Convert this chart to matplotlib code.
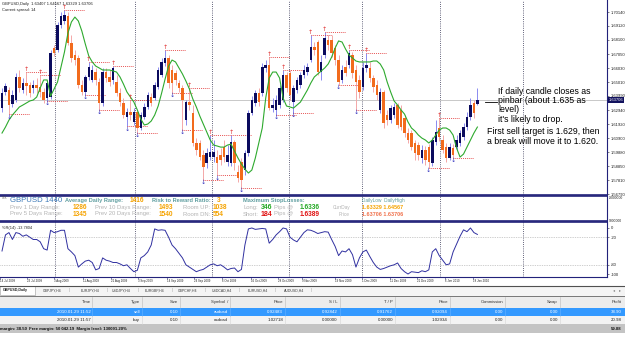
import matplotlib
matplotlib.use("Agg")
import matplotlib.pyplot as plt
from matplotlib.patches import Rectangle
import numpy as np

plt.rcParams["font.family"] = ["Liberation Sans", "DejaVu Sans"]

# GBPUSD daily bars
opens = [1.6310, 1.6428, 1.6442, 1.6340, 1.6369, 1.6538, 1.6442, 1.6494, 1.6479, 1.6457,
         1.6479, 1.6464, 1.6428, 1.6384, 1.6391, 1.6750, 1.6736, 1.6919, 1.6948, 1.6985,
         1.6787, 1.6699, 1.6677, 1.6479, 1.6428, 1.6538, 1.6516, 1.6574, 1.6501, 1.6347,
         1.6574, 1.6538, 1.6516, 1.6501, 1.6420, 1.6347, 1.6244, 1.6281, 1.6208, 1.6281,
         1.6164, 1.6244, 1.6318, 1.6391, 1.6384, 1.6464, 1.6552, 1.6640, 1.6677, 1.6589,
         1.6567, 1.6494, 1.6457, 1.6222, 1.6354, 1.6274, 1.6054, 1.6054, 1.5966, 1.5907,
         1.5951, 1.5951, 1.5951, 1.5966, 1.6024, 1.5915, 1.5907, 1.6061, 1.5841, 1.5915,
         1.5856, 1.5980, 1.6274, 1.6347, 1.6420, 1.6420, 1.6604, 1.6626, 1.6310, 1.6296,
         1.6332, 1.6369, 1.6552, 1.6567, 1.6354, 1.6442, 1.6479, 1.6552, 1.6574, 1.6662,
         1.6757, 1.6794, 1.6574, 1.6699, 1.6809, 1.6809, 1.6750, 1.6662, 1.6516, 1.6611,
         1.6626, 1.6699, 1.6589, 1.6516, 1.6464, 1.6604, 1.6604, 1.6530, 1.6479, 1.6296,
         1.6428, 1.6259, 1.6222, 1.6259, 1.6332, 1.6296, 1.6237, 1.6127, 1.6127, 1.6054,
         1.6039, 1.5944, 1.6002, 1.6024, 1.5907, 1.6061, 1.6164, 1.6076, 1.6024, 1.5944,
         1.6017, 1.6024, 1.6054, 1.6098, 1.6171, 1.6244, 1.6347, 1.63407]
highs = [1.6457, 1.6494, 1.6464, 1.6442, 1.6567, 1.6589, 1.6530, 1.6574, 1.6501, 1.6516,
         1.6530, 1.6552, 1.6457, 1.6516, 1.6736, 1.6772, 1.6941, 1.7014, 1.7029, 1.7014,
         1.6845, 1.6736, 1.6699, 1.6516, 1.6552, 1.6648, 1.6626, 1.6604, 1.6530, 1.6604,
         1.6604, 1.6589, 1.6618, 1.6552, 1.6457, 1.6384, 1.6310, 1.6369, 1.6310, 1.6296,
         1.6281, 1.6347, 1.6428, 1.6420, 1.6501, 1.6611, 1.6677, 1.6736, 1.6699, 1.6626,
         1.6589, 1.6516, 1.6479, 1.6369, 1.6457, 1.6332, 1.6090, 1.6076, 1.6002, 1.6017,
         1.6112, 1.6076, 1.6002, 1.6017, 1.6076, 1.6039, 1.6112, 1.6076, 1.5893, 1.5944,
         1.6002, 1.6296, 1.6398, 1.6442, 1.6457, 1.6640, 1.6662, 1.6684, 1.6384, 1.6406,
         1.6479, 1.6589, 1.6574, 1.6589, 1.6479, 1.6538, 1.6574, 1.6626, 1.6640, 1.6845,
         1.6794, 1.6809, 1.6699, 1.6867, 1.6845, 1.6845, 1.6772, 1.6699, 1.6626, 1.6662,
         1.6736, 1.6721, 1.6626, 1.6552, 1.6648, 1.6714, 1.6648, 1.6552, 1.6516, 1.6457,
         1.6442, 1.6296, 1.6332, 1.6347, 1.6347, 1.6332, 1.6259, 1.6164, 1.6149, 1.6076,
         1.6061, 1.6039, 1.6032, 1.6046, 1.6098, 1.6222, 1.6237, 1.6112, 1.6054, 1.6054,
         1.6046, 1.6112, 1.6149, 1.6200, 1.6281, 1.6384, 1.6369, 1.64567]
lows = [1.6281, 1.6406, 1.6266, 1.6318, 1.6354, 1.6428, 1.6420, 1.6406, 1.6391, 1.6420,
        1.6420, 1.6391, 1.6347, 1.6362, 1.6376, 1.6692, 1.6721, 1.6897, 1.6926, 1.6772,
        1.6648, 1.6626, 1.6457, 1.6406, 1.6406, 1.6516, 1.6501, 1.6479, 1.6296, 1.6325,
        1.6501, 1.6472, 1.6486, 1.6398, 1.6325, 1.6237, 1.6178, 1.6222, 1.6186, 1.6127,
        1.6149, 1.6230, 1.6303, 1.6325, 1.6369, 1.6450, 1.6538, 1.6618, 1.6457, 1.6420,
        1.6479, 1.6428, 1.6149, 1.6186, 1.6296, 1.6032, 1.5966, 1.5929, 1.5783, 1.5871,
        1.5929, 1.5915, 1.5819, 1.5893, 1.5915, 1.5885, 1.5885, 1.5856, 1.5768, 1.5724,
        1.5819, 1.5959, 1.6259, 1.6325, 1.6325, 1.6398, 1.6574, 1.6296, 1.6281, 1.6259,
        1.6310, 1.6354, 1.6428, 1.6369, 1.6274, 1.6420, 1.6457, 1.6530, 1.6552, 1.6648,
        1.6699, 1.6552, 1.6516, 1.6677, 1.6736, 1.6684, 1.6626, 1.6479, 1.6494, 1.6545,
        1.6604, 1.6530, 1.6296, 1.6384, 1.6442, 1.6574, 1.6501, 1.6428, 1.6369, 1.6274,
        1.6164, 1.6186, 1.6200, 1.6237, 1.6164, 1.6149, 1.6098, 1.6054, 1.6002, 1.5929,
        1.5929, 1.5907, 1.5893, 1.5871, 1.5885, 1.6039, 1.6068, 1.5980, 1.5915, 1.5929,
        1.5944, 1.6002, 1.6032, 1.6076, 1.6149, 1.6222, 1.6237, 1.63329]
closes = [1.6420, 1.6472, 1.6332, 1.6406, 1.6538, 1.6457, 1.6494, 1.6472, 1.6420, 1.6479,
          1.6457, 1.6428, 1.6369, 1.6494, 1.6714, 1.6714, 1.6919, 1.6985, 1.6992, 1.6787,
          1.6677, 1.6662, 1.6479, 1.6428, 1.6538, 1.6611, 1.6589, 1.6516, 1.6347, 1.6574,
          1.6530, 1.6501, 1.6604, 1.6420, 1.6354, 1.6259, 1.6281, 1.6259, 1.6281, 1.6164,
          1.6259, 1.6318, 1.6406, 1.6347, 1.6479, 1.6589, 1.6648, 1.6677, 1.6494, 1.6494,
          1.6516, 1.6457, 1.6369, 1.6354, 1.6332, 1.6054, 1.6002, 1.5951, 1.5878, 1.5980,
          1.5988, 1.5988, 1.5907, 1.5929, 1.5951, 1.5966, 1.6061, 1.5907, 1.5797, 1.5783,
          1.5980, 1.6274, 1.6369, 1.6420, 1.6354, 1.6611, 1.6626, 1.6310, 1.6332, 1.6369,
          1.6457, 1.6552, 1.6457, 1.6406, 1.6457, 1.6516, 1.6552, 1.6589, 1.6611, 1.6757,
          1.6736, 1.6574, 1.6648, 1.6823, 1.6772, 1.6714, 1.6662, 1.6501, 1.6589, 1.6567,
          1.6714, 1.6567, 1.6501, 1.6428, 1.6604, 1.6626, 1.6530, 1.6464, 1.6406, 1.6428,
          1.6200, 1.6222, 1.6310, 1.6318, 1.6186, 1.6171, 1.6127, 1.6076, 1.6024, 1.5980,
          1.5966, 1.6002, 1.5929, 1.5915, 1.6076, 1.6134, 1.6098, 1.6002, 1.5944, 1.6024,
          1.5966, 1.6076, 1.6127, 1.6171, 1.6244, 1.6332, 1.6274, 1.63706]

# green moving-average line drawn on the chart
ma_line = [1.6127, 1.6171, 1.6222, 1.6259, 1.6288, 1.6318, 1.6332, 1.6347, 1.6362, 1.6369,
           1.6391, 1.6457, 1.6516, 1.6516, 1.6398, 1.6450, 1.6501, 1.6611, 1.6721, 1.6860,
           1.6941, 1.6977, 1.6948, 1.6875, 1.6780, 1.6692, 1.6648, 1.6618, 1.6604, 1.6589,
           1.6589, 1.6589, 1.6582, 1.6574, 1.6538, 1.6486, 1.6428, 1.6391, 1.6354, 1.6296,
           1.6230, 1.6186, 1.6193, 1.6215, 1.6259, 1.6325, 1.6420, 1.6523, 1.6618, 1.6662,
           1.6648, 1.6604, 1.6560, 1.6508, 1.6450, 1.6376, 1.6318, 1.6252, 1.6193, 1.6134,
           1.6076, 1.6039, 1.6032, 1.6024, 1.6024, 1.6039, 1.6046, 1.5995, 1.5944, 1.5900,
           1.5863, 1.5834, 1.5856, 1.5944, 1.6054, 1.6164, 1.6384, 1.6530, 1.6574, 1.6574,
           1.6530, 1.6384, 1.6325, 1.6318, 1.6310, 1.6332, 1.6354, 1.6398, 1.6442, 1.6494,
           1.6538, 1.6560, 1.6582, 1.6604, 1.6633, 1.6684, 1.6750, 1.6802, 1.6794, 1.6743,
           1.6699, 1.6677, 1.6655, 1.6648, 1.6648, 1.6648, 1.6648, 1.6655, 1.6655, 1.6633,
           1.6589, 1.6501, 1.6428, 1.6362, 1.6332, 1.6296, 1.6266, 1.6208, 1.6164, 1.6142,
           1.6112, 1.6090, 1.6076, 1.6054, 1.6076, 1.6112, 1.6149, 1.6164, 1.6164, 1.6149,
           1.6112, 1.6017, 1.5951, 1.5973, 1.6024, 1.6076, 1.6127, 1.6171]

# Williams %R(14) in the lower window
wpr = [-50, -15, -10, -25, -10, -12, -18, -15, -20, -25,
       -25, -30, -45, -48, -5, -10, -8, -5, -5, -45,
       -52, -60, -85, -78, -72, -70, -75, -91, -88, -65,
       -70, -72, -75, -75, -78, -82, -80, -88, -95, -92,
       -65, -60, -52, -37, -2, -5, -4, -5, -20, -37,
       -45, -55, -65, -80, -85, -90, -95, -92, -90, -85,
       -80, -78, -82, -80, -85, -91, -88, -87, -95, -90,
       -37, -2, 0, -3, -2, -1, -2, -33, -25, -15,
       -8, 0, -2, -20, -26, -30, -20, -10, -4, -5,
       -8, -12, -10, -8, -9, -25, -40, -60, -50, -52,
       -45, -58, -85, -65, -52, -48, -62, -75, -85, -90,
       -88, -85, -82, -80, -76, -88, -95, -100, -95, -96,
       -97, -93, -95, -91, -52, -45, -60, -70, -80, -78,
       -52, -35, -18, -4, -8, 0, -10, -14]
wpr_label = "%R(14) -13.7804"

fractal_up = [7, 11, 18, 25, 32, 37, 47, 54, 60, 66, 77, 81, 89, 93, 100, 105, 126]
fractal_down = [2, 13, 24, 28, 36, 39, 49, 52, 58, 62, 69, 79, 84, 97, 102, 123, 130]
month_starts = [15.3, 38.3, 60.5, 82.7, 103.7, 126.2, 150.1]

price_ticks = [1.70140, 1.69120, 1.68100, 1.67050, 1.66030, 1.65010, 1.63990,
               1.62940, 1.61920, 1.60900, 1.59880, 1.58850, 1.57810, 1.56790]
date_pos = [-0.45, 7.2, 15.0, 23.3, 31.4, 39.2, 47.6, 55.3, 63.4, 71.8, 79.5, 86.5,
            96.0, 103.7, 111.8, 119.6, 127.7, 135.7]
date_labels = ["14 Jul 2009", "23 Jul 2009", "3 Aug 2009", "11 Aug 2009", "21 Aug 2009",
               "3 Sep 2009", "14 Sep 2009", "24 Sep 2009", "6 Oct 2009", "16 Oct 2009",
               "28 Oct 2009", "9 Nov 2009", "19 Nov 2009", "1 Dec 2009", "11 Dec 2009",
               "21 Dec 2009", "6 Jan 2010", "18 Jan 2010"]

tabs = ["GBPJPY,H4", "EURJPY,H4", "USDJPY,H4", "EURGBP,H4", "GBPCHF,H4",
        "USDCAD,H4", "EURUSD,H4", "AUDUSD,H4"]
columns = ["Time", "Type", "Size", "Symbol  /", "Price", "S / L", "T / P", "Price",
           "Commission", "Swap", "Profit"]
trade_rows = [
    ["2010.01.29 11:52", "sell", "0.10", "audusd", "0.92483", "0.92842", "0.91762",
     "0.92094", "0.00", "0.00", "38.90"],
    ["2010.01.29 11:57", "buy", "0.10", "usdcad", "1.02718", "0.00000", "0.00000",
     "1.02934", "0.00", "0.00", "20.98"],
]
total_profit = "59.88"

W, H = 625, 354
NAVY = "#22227a"
fig = plt.figure(figsize=(W / 100, H / 100), dpi=100)


def box(x0, y0, x1, y1):
    # pixel box (top-left origin) -> figure fraction rect
    return [x0 / W, 1 - y1 / H, (x1 - x0) / W, (y1 - y0) / H]


x_lim = (-0.58, 174.35)
x = np.arange(len(closes))
o, hi, lo, c = (np.array(v) for v in (opens, highs, lows, closes))
bull = c >= o

# ---- main price window ----
ax = fig.add_axes(box(0, 0, 607, 195))
ax.set_facecolor("none")
for m in month_starts:
    ax.axvline(m, color="#303050", lw=0.6, ls=(0, (1, 1.6)), zorder=1)
ax.axhline(c[-1], color="#c8c8c8", lw=0.7, zorder=1)
ax.vlines(x[bull], lo[bull], hi[bull], color="#8a8af0", lw=0.7, zorder=2)
ax.vlines(x[~bull], lo[~bull], hi[~bull], color="#f4a8a8", lw=0.7, zorder=2)
body_lo = np.minimum(o, c)
body_h = np.maximum(np.abs(c - o), 0.0004)
ax.bar(x[bull], body_h[bull], bottom=body_lo[bull], width=0.72, color="#0b0b5e", lw=0, zorder=3)
ax.bar(x[~bull], body_h[~bull], bottom=body_lo[~bull], width=0.72, color="#f26b1d", lw=0, zorder=3)
ax.plot(x, ma_line, color="#2eaa2e", lw=0.8, zorder=4)

for i in fractal_up:
    ax.hlines(hi[i], i, i + 6, colors="#e02020", linestyles=(0, (1, 1.3)), lw=0.6, zorder=2)
    ax.annotate("↑", (i, hi[i]), xytext=(0, 0.3), textcoords="offset points", ha="center",
                va="bottom", color="#e03030", fontsize=4.5, family="DejaVu Sans", zorder=5)
for i in fractal_down:
    ax.hlines(lo[i], i, i + 6, colors="#e02020", linestyles=(0, (1, 1.3)), lw=0.6, zorder=2)
    ax.annotate("↓", (i, lo[i]), xytext=(0, -0.3), textcoords="offset points", ha="center",
                va="top", color="#3535c0", fontsize=4.5, family="DejaVu Sans", zorder=5)

ax.set_xlim(*x_lim)
ax.set_ylim(1.5673, 1.7102)
ax.yaxis.tick_right()
ax.set_yticks(price_ticks)
ax.set_yticklabels([f"{p:.5f}" for p in price_ticks])
ax.tick_params(axis="y", labelsize=3, length=1.5, width=0.4, pad=1, colors="#202020")
ax.set_xticks([])
for s in ("top", "left"):
    ax.spines[s].set_visible(False)
ax.spines["right"].set_color(NAVY)
ax.spines["right"].set_linewidth(0.8)
ax.spines["bottom"].set_color(NAVY)
ax.spines["bottom"].set_linewidth(1.2)
ax.text(1.003, c[-1], f"{c[-1]:.5f}", transform=ax.get_yaxis_transform(), ha="left",
        va="center", fontsize=3, color="white",
        bbox=dict(boxstyle="square,pad=0.25", fc="#12125e", ec="none"))

# ---- info window ----
info = fig.add_axes(box(0, 196, 607, 221))
info.set_facecolor("none")
info.set_xlim(*x_lim)
for m in month_starts:
    info.axvline(m, color="#303050", lw=0.6, ls=(0, (1, 1.6)))
info.set_xticks([])
info.set_yticks([])
info.spines["left"].set_visible(False)
for s in ("top", "bottom"):
    info.spines[s].set_color(NAVY)
    info.spines[s].set_linewidth(1.2)
info.spines["right"].set_color(NAVY)
info.spines["right"].set_linewidth(0.8)

# ---- %R window ----
osc = fig.add_axes(box(0, 222, 607, 277))
osc.set_facecolor("none")
for m in month_starts:
    osc.axvline(m, color="#303050", lw=0.6, ls=(0, (1, 1.6)))
for lvl in (-20, -80):
    osc.axhline(lvl, color="#a0a0a0", lw=0.5, ls=(0, (1, 1.5)))
osc.plot(x, wpr, color="#3030a0", lw=0.7)
osc.set_xlim(*x_lim)
osc.set_ylim(-106.5, 13)
osc.yaxis.tick_right()
osc.set_yticks([0, -20, -80, -100])
osc.set_yticklabels(["0", "-20", "-80", "-100"])
osc.tick_params(axis="y", labelsize=3, length=1.5, width=0.4, pad=1, colors="#202020")
osc.set_xticks([p for p in date_pos if p > x_lim[0]])
osc.tick_params(axis="x", length=1.5, width=0.4, labelbottom=False, colors=NAVY)
osc.spines["left"].set_visible(False)
for s in ("top", "bottom", "right"):
    osc.spines[s].set_color(NAVY)
osc.spines["top"].set_linewidth(1.2)
osc.spines["bottom"].set_linewidth(0.8)
osc.spines["right"].set_linewidth(0.8)
osc.text(0.004, 0.89, wpr_label, transform=osc.transAxes, fontsize=2.8, color="#202020",
         va="center")
for p, lab in zip(date_pos, date_labels):
    osc.text(p, -0.075, lab, transform=osc.get_xaxis_transform(), fontsize=2.1, ha="left",
             va="center", color="#202020", clip_on=False)

# ---- overlay in pixel coordinates: texts, tabs, terminal table ----
ov = fig.add_axes([0, 0, 1, 1])
ov.set_xlim(0, W)
ov.set_ylim(H, 0)
ov.axis("off")
ov.patch.set_visible(False)


def t(px, py, s, color="#202020", size=3.2, weight="normal", ha="left", **kw):
    ov.text(px, py, s, color=color, fontsize=size, fontweight=weight, ha=ha, va="center", **kw)


t(2, 3.5, f"GBPUSD,Daily  {o[-1]:.5f} {hi[-1]:.5f} {lo[-1]:.5f} {c[-1]:.5f}", size=2.9)
t(2, 9.5, "Current spread: 14", size=2.9)

note = ["If daily candle closes as", "pinbar (about 1.635 as", "level)", "it's likely to drop."]
for k, line in enumerate(note):
    t(498, 91 + 9.4 * k, line, color="black", size=6.3)
t(487, 132, "First sell target is 1.629, then", color="black", size=6.3)
t(487, 142, "a break will move it to 1.620.", color="black", size=6.3)
ov.plot([485, 497], [101.5, 101.5], color="black", lw=0.6)

# right-scale labels of the info window
t(609, 198.2, "-9000000", size=2.4)
t(609, 221.5, "9000000", size=2.4)

# info window text
HEAD, VAL, LAB = "#5f9ea0", "#f5a300", "#b4b4b4"
t(1.5, 197.8, "TSK", size=2, color="#505050")
t(10, 200.7, "GBPUSD 1440", color="#3d7ab8", size=5.6)
t(65, 200.7, "Average Daily Range:", color=HEAD, size=4.1, weight="bold")
t(130, 200.7, "1416", color=VAL, size=4.7, weight="bold")
t(152, 200.7, "Risk to Reward Ratio:", color=HEAD, size=4.1, weight="bold")
t(217, 200.7, "3", color=VAL, size=4.7, weight="bold")
t(243, 200.7, "Maximum StopLosses:", color=HEAD, size=4.1, weight="bold")
t(362, 200.2, "DailyLow  DailyHigh", color=HEAD, size=3.4)
rows_info = [
    (207.3, "Prev 1 Day Range:", "1286", "Prev 10 Days Range:", "1493", "Room UP:", "1038",
     "Long:", "346", "1.6336", "#22a822"),
    (214.0, "Prev 5 Days Range:", "1345", "Prev 20 Days Range:", "1540", "Room DN:", "554",
     "Short:", "184", "1.6389", "#e01010"),
]
for yy, l1, v1, l2, v2, l3, v3, l4, pips, lvl, col in rows_info:
    t(10, yy, l1, color=LAB, size=4.2)
    t(73, yy, v1, color=VAL, size=4.7, weight="bold")
    t(95, yy, l2, color=LAB, size=4.2)
    t(159, yy, v2, color=VAL, size=4.7, weight="bold")
    t(183, yy, l3, color=LAB, size=4.2)
    t(213, yy, v3, color=VAL, size=4.7, weight="bold")
    t(243, yy, l4, color=LAB, size=4.2)
    t(261, yy, pips, color=col, size=5.0, weight="bold")
    t(274, yy, "Pips @", color=LAB, size=4.2)
    t(300, yy, lvl, color=col, size=4.7, weight="bold")
t(350, 207.3, "CurrDay", color=LAB, size=3.4, ha="right")
t(362, 207.3, f"{lo[-1]:.5f} {hi[-1]:.5f}", color=VAL, size=3.9, weight="bold")
t(350, 214.0, "Price", color=LAB, size=3.4, ha="right")
t(362, 214.0, f"{c[-1]:.5f} {c[-1]:.5f}", color="#f0704a", size=3.9, weight="bold")

# tab bar
ov.add_patch(Rectangle((0, 285.5), W, 10.5, fc="#f4f4f4", ec="none"))
ov.plot([0, W], [285.5, 285.5], color="#505050", lw=0.8)
ov.add_patch(Rectangle((0, 286), 35, 9, fc="white", ec="#9a9a9a", lw=0.4))
t(3, 290.5, "GBPUSD,Daily", size=2.6, weight="bold")
tab_centers = [52, 90, 121, 155, 188, 222, 258, 294]
for cx, name in zip(tab_centers, tabs):
    t(cx, 290.5, name, size=2.5, ha="center", color="#404040")
    t(cx + 17, 290.5, "|", size=2.8, ha="center", color="#9a9a9a")
t(614, 290.5, "◂", size=3, color="#808080", ha="center")
t(620, 290.5, "▸", size=3, color="#808080", ha="center")
ov.plot([0, W], [296, 296], color="#606060", lw=0.6)

# terminal table
col_right = [90.5, 140, 178, 228, 283, 337.5, 393, 448, 503, 558, 622]
col_sep = [92, 142, 180, 230, 285, 340, 395, 450, 505, 560]
ov.add_patch(Rectangle((0, 296.5), W, 11, fc="#ececec", ec="none"))
ov.add_patch(Rectangle((0, 307.5), W, 8.5, fc="#3399ff", ec="none"))
ov.add_patch(Rectangle((0, 316), W, 8, fc="#f3f3f3", ec="none"))
ov.add_patch(Rectangle((0, 324), W, 9, fc="#c4c4c4", ec="none"))
for sx in col_sep:
    ov.plot([sx, sx], [297, 307], color="#c4c4c4", lw=0.5)
    ov.plot([sx, sx], [308, 316], color="#66b3ff", lw=0.4)
    ov.plot([sx, sx], [316, 324], color="#d6d6d6", lw=0.4)
for rx, name in zip(col_right, columns):
    t(rx, 302.3, name, size=3.1, ha="right", color="#303030")
for ry, row, colr in zip([311.8, 320.0], trade_rows, ["white", "#202020"]):
    for rx, val in zip(col_right, row):
        t(rx, ry, val, size=3.2, ha="right", color=colr)
t(0, 328.7, "margin: 38.50  Free margin: 50 042.19  Margin level: 130091.20%", size=3.1,
  weight="bold", color="#101010")
t(622, 328.7, total_profit, size=3.1, weight="bold", ha="right", color="#101010")

fig.savefig("out.png", dpi=100)
